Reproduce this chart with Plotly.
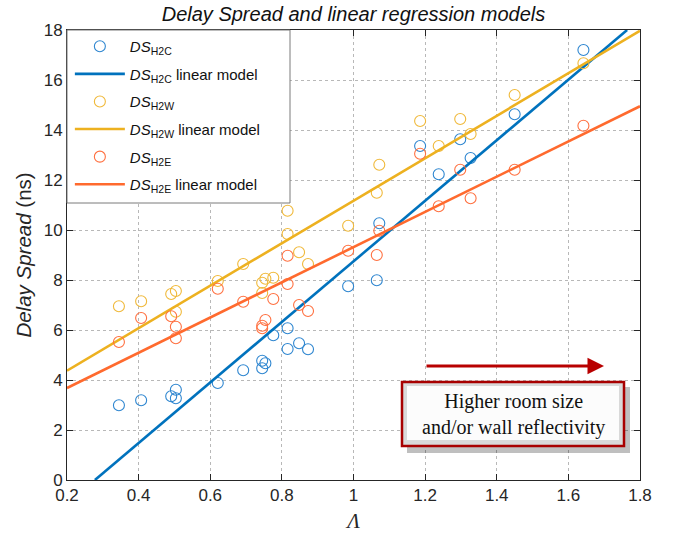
import plotly.graph_objects as go

# ---- data ----
lam = [0.345, 0.407, 0.491, 0.504, 0.504, 0.621, 0.692, 0.745, 0.745, 0.754,
       0.776, 0.816, 0.816, 0.848, 0.873, 0.985, 1.065, 1.072, 1.186, 1.238,
       1.298, 1.327, 1.450, 1.642]
ds_h2c = [2.99, 3.19, 3.35, 3.61, 3.27, 3.88, 4.39, 4.77, 4.47, 4.67,
          5.79, 6.07, 5.24, 5.47, 5.23, 7.75, 7.99, 10.27, 13.36, 12.23,
          13.63, 12.88, 14.63, 17.20]
ds_h2w = [6.95, 7.15, 7.44, 7.56, 6.73, 7.96, 8.64, 7.89, 7.48, 8.05,
          8.09, 10.77, 9.84, 9.11, 8.64, 10.17, 11.49, 12.61, 14.36, 13.36,
          14.44, 13.84, 15.40, 16.67]
ds_h2e = [5.52, 6.48, 6.55, 6.13, 5.67, 7.65, 7.13, 6.17, 6.07, 6.40,
          7.24, 8.97, 7.84, 7.00, 6.76, 9.17, 9.00, 9.97, 13.05, 10.95,
          12.41, 11.27, 12.41, 14.17]

# linear-model lines (end points)
h2c_model_x = [0.278, 1.764]
h2c_model_y = [0.0, 18.0]
h2w_model_x = [0.2, 1.8]
h2w_model_y = [4.37, 17.97]
h2e_model_x = [0.2, 1.8]
h2e_model_y = [3.68, 14.95]

x_ticks = [0.2, 0.4, 0.6, 0.8, 1.0, 1.2, 1.4, 1.6, 1.8]
x_tick_labels = ["0.2", "0.4", "0.6", "0.8", "1", "1.2", "1.4", "1.6", "1.8"]
y_ticks = [0, 2, 4, 6, 8, 10, 12, 14, 16, 18]

series_names = ["<i>DS</i><sub>H2C</sub>", "<i>DS</i><sub>H2W</sub>", "<i>DS</i><sub>H2E</sub>"]
model_suffix = " linear model"

# ---- styling ----
C_BLUE = "#0072BD"
C_YEL = "#EDB120"
C_ORA = "#FF6A2E"
W, H = 681, 534
L, R, T, B = 67, 41, 30, 54
PW, PH = W - L - R, H - T - B


def px(xp):
    return (xp - L) / PW


def py(yp):
    return (H - B - yp) / PH


fig = go.Figure()

def add_series(i, xs, ys, mx, my, color, mcolor):
    fig.add_trace(go.Scatter(
        x=xs, y=ys, mode="markers", name=series_names[i],
        legendgroup=f"s{i}a",
        marker=dict(symbol="circle-open", size=11, color=mcolor,
                    line=dict(width=1.1, color=mcolor)),
    ))
    fig.add_trace(go.Scatter(
        x=mx, y=my, mode="lines", name=series_names[i] + model_suffix,
        legendgroup=f"s{i}b",
        line=dict(color=color, width=2.6),
    ))

add_series(0, lam, ds_h2c, h2c_model_x, h2c_model_y, C_BLUE, "#2E86D0")
add_series(1, lam, ds_h2w, h2w_model_x, h2w_model_y, C_YEL, "#F0B93A")
add_series(2, lam, ds_h2e, h2e_model_x, h2e_model_y, C_ORA, "#FF7040")

shapes = []
# legend box
shapes.append(dict(type="rect", xref="paper", yref="paper",
                   x0=0, x1=px(290), y0=py(203), y1=1,
                   fillcolor="white", line=dict(color="#7a7a7a", width=1),
                   layer="above"))
# annotation box: shadow, frame, bevel
bx0, bx1, by0, by1 = 402, 624, 382, 446
shapes.append(dict(type="rect", xref="paper", yref="paper",
                   x0=px(bx0 + 5), x1=px(bx1 + 6), y0=py(by1 + 7), y1=py(by0 + 5),
                   fillcolor="rgba(0,0,0,0.25)", line=dict(width=0), layer="above"))
shapes.append(dict(type="rect", xref="paper", yref="paper",
                   x0=px(bx0), x1=px(bx1), y0=py(by1), y1=py(by0),
                   fillcolor="#d9d9d9", line=dict(color="#A80000", width=2.5),
                   layer="above"))
shapes.append(dict(type="rect", xref="paper", yref="paper",
                   x0=px(bx0 + 5), x1=px(bx1 - 5), y0=py(by1 - 6), y1=py(by0 + 4),
                   fillcolor="#fcfcfc", line=dict(width=0),
                   layer="above"))

annotations = [
    dict(xref="paper", yref="paper", x=px((bx0 + bx1) / 2), y=py((by0 + by1) / 2),
         text="Higher room size<br>and/or wall reflectivity", showarrow=False,
         font=dict(family="Liberation Serif", size=20, color="#111111"),
         xanchor="center", yanchor="middle"),
    dict(xref="paper", yref="paper", x=px(604), y=py(366), ax=-179, ay=0,
         axref="pixel", ayref="pixel", text="", showarrow=True,
         arrowhead=2, arrowsize=1.1, arrowwidth=3, arrowcolor="#B80000"),
]

axis_common = dict(
    showline=True, linecolor="#262626", linewidth=1, mirror="ticks",
    ticks="inside", ticklen=6, tickcolor="#262626",
    showgrid=True, gridcolor="#b8b8b8", griddash="dot", gridwidth=1,
    zeroline=False, automargin=False,
    tickfont=dict(family="Liberation Sans", size=17, color="#262626"),
)

fig.update_layout(
    width=W, height=H,
    margin=dict(l=L, r=R, t=T, b=B, autoexpand=False),
    paper_bgcolor="white", plot_bgcolor="white",
    title=dict(text="<i>Delay Spread and linear regression models</i>",
               x=(353.5) / W, xanchor="center", xref="container",
               y=1 - 14 / H, yanchor="middle", yref="container",
               font=dict(family="Liberation Sans", size=20, color="#111111")),
    xaxis=dict(range=[0.2, 1.8], tickvals=x_ticks, ticktext=x_tick_labels,
               title=dict(text="<i>Λ</i>", standoff=8,
                          font=dict(family="Liberation Serif", size=21, color="#262626")),
               **axis_common),
    yaxis=dict(range=[0, 18], tickvals=y_ticks,
               title=dict(text="<i>Delay Spread</i> (ns)", standoff=6,
                          font=dict(family="Liberation Sans", size=20.5, color="#262626")),
               **axis_common),
    showlegend=True,
    legend=dict(x=0.005, y=1.0, xanchor="left", yanchor="top",
                bgcolor="rgba(0,0,0,0)", borderwidth=0,
                font=dict(family="Liberation Sans", size=15, color="#111111"),
                itemwidth=50, tracegroupgap=5.1),
    shapes=shapes,
    annotations=annotations,
)

fig.write_html("out.html", config={"displayModeBar": False},
               post_script="document.body.style.margin='0px';")
